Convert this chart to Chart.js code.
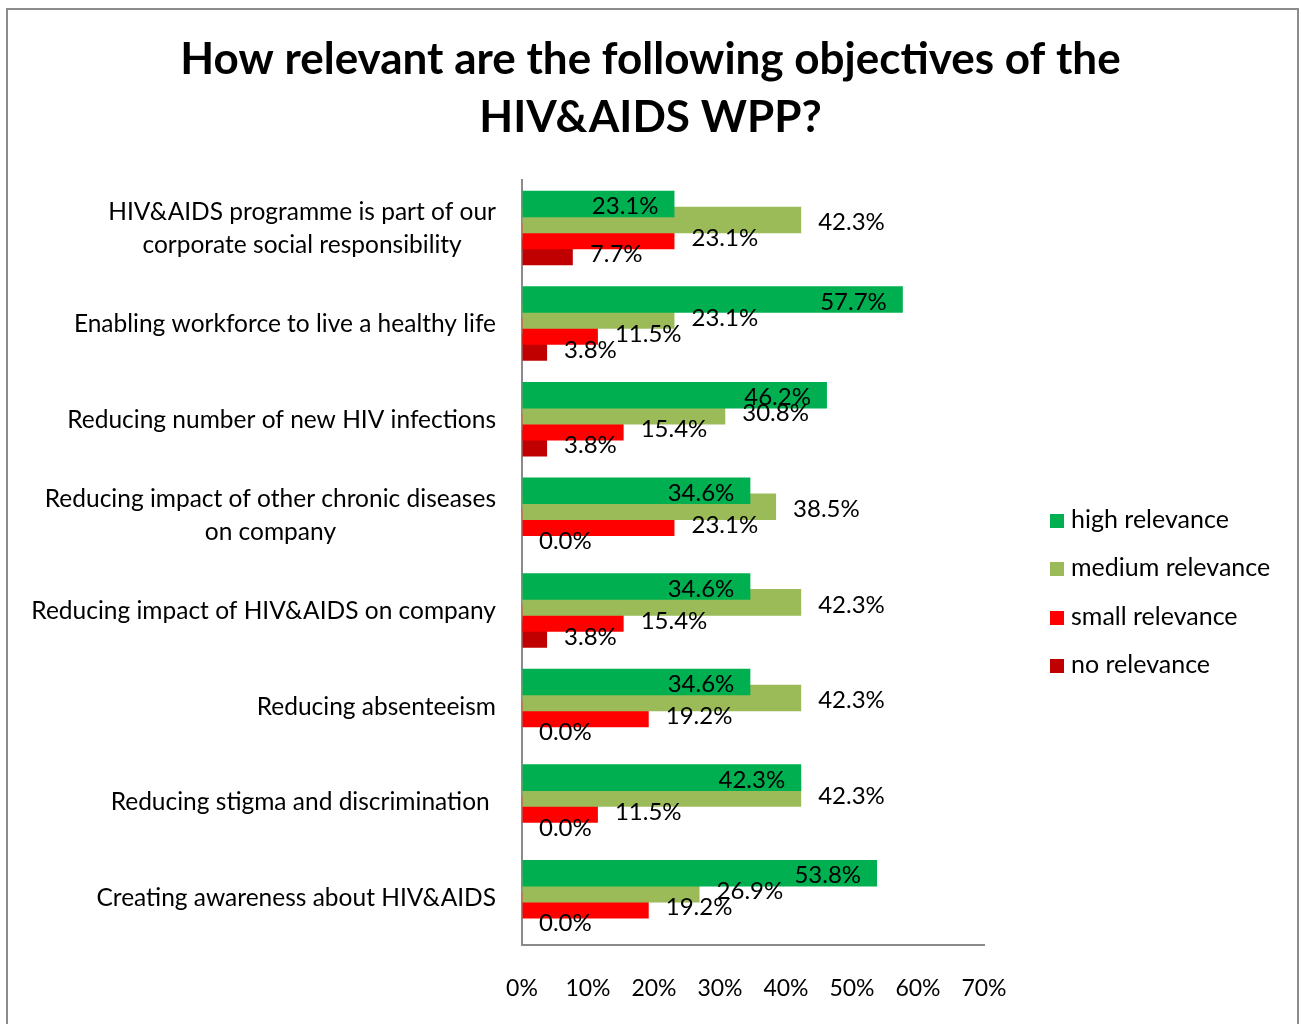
<!DOCTYPE html>
<html>
<head>
<meta charset="utf-8">
<title>HIV&amp;AIDS WPP objectives</title>
<script src="https://cdn.jsdelivr.net/npm/chart.js@4.4.1/dist/chart.umd.min.js"></script>
<style>
  body { margin: 0; background: #fff; font-family: Lato, sans-serif; }
  #frame { position: absolute; left: 6px; top: 8px; width: 1289px; height: 1040px; border: 2px solid #8c8c8c; }
  #chart { position: absolute; left: 0; top: 0; }
  #legend { position: absolute; left: 1050px; top: 494px; font-size: 25px; color: #000; }
  #legend div { height: 48.4px; line-height: 48.4px; white-space: nowrap; }
  #legend span { display: inline-block; width: 14px; height: 14px; margin-right: 7px; vertical-align: 0px; }
</style>
</head>
<body>
<div id="frame"></div>
<canvas id="chart" width="1301" height="1024"></canvas>
<div id="legend"></div>
<script>
// Categorias (cada una en lineas)
const categories = [
  ['HIV&AIDS programme is part of our', 'corporate social responsibility'],
  ['Enabling workforce to live a healthy life'],
  ['Reducing number of new HIV infections'],
  ['Reducing impact of other chronic diseases', 'on company'],
  ['Reducing impact of HIV&AIDS on company'],
  ['Reducing absenteeism'],
  ['Reducing stigma and discrimination '],
  ['Creating awareness about HIV&AIDS']
];

// Porcentajes por serie
const highRelevance = [23.1, 57.7, 46.2, 34.6, 34.6, 34.6, 42.3, 53.8];
const mediumRelevance = [42.3, 23.1, 30.8, 38.5, 42.3, 42.3, 42.3, 26.9];
const smallRelevance = [23.1, 11.5, 15.4, 23.1, 15.4, 19.2, 11.5, 19.2];
const noRelevance = [7.7, 3.8, 3.8, 0.0, 3.8, 0.0, 0.0, 0.0];

const seriesNames = ['high relevance', 'medium relevance', 'small relevance', 'no relevance'];
const seriesColors = ['#00B050', '#9BBB59', '#FF0000', '#C00000'];

// Etiquetas de valor: la primera serie dentro de la barra, el resto fuera
const valueLabels = {
  id: 'valueLabels',
  afterDatasetsDraw(chart) {
    const ctx = chart.ctx;
    ctx.save();
    ctx.font = '24px Lato';
    ctx.fillStyle = '#000';
    ctx.textBaseline = 'middle';
    chart.data.datasets.forEach((ds, di) => {
      const meta = chart.getDatasetMeta(di);
      meta.data.forEach((bar, i) => {
        const text = ds.data[i].toFixed(1) + '%';
        if (di === 0) {
          ctx.textAlign = 'right';
          ctx.fillText(text, bar.x - 16, bar.y + 2.5);
        } else {
          ctx.textAlign = 'left';
          ctx.fillText(text, bar.x + 17, bar.y + 2.5);
        }
      });
    });
    ctx.restore();
  }
};

// Nombres de categoria a la izquierda del eje, lineas centradas entre si
const categoryLabels = {
  id: 'categoryLabels',
  afterDraw(chart) {
    const ctx = chart.ctx;
    const yScale = chart.scales.y;
    const right = chart.chartArea.left - 26;
    ctx.save();
    ctx.font = '24.5px Lato';
    ctx.fillStyle = '#000';
    ctx.textAlign = 'center';
    ctx.textBaseline = 'middle';
    categories.forEach((lines, i) => {
      const cy = yScale.getPixelForValue(i) + 1;
      const maxW = Math.max(...lines.map(l => ctx.measureText(l).width));
      const cx = right - maxW / 2;
      lines.forEach((line, k) => {
        ctx.fillText(line, cx, cy + (k - (lines.length - 1) / 2) * 33);
      });
    });
    ctx.restore();
  }
};

const chart = new Chart(document.getElementById('chart'), {
  type: 'bar',
  data: {
    labels: categories.map(c => c.join(' ')),
    datasets: [
      { label: seriesNames[0], data: highRelevance, backgroundColor: seriesColors[0] },
      { label: seriesNames[1], data: mediumRelevance, backgroundColor: seriesColors[1] },
      { label: seriesNames[2], data: smallRelevance, backgroundColor: seriesColors[2] },
      { label: seriesNames[3], data: noRelevance, backgroundColor: seriesColors[3] }
    ]
  },
  options: {
    indexAxis: 'y',
    responsive: false,
    animation: false,
    categoryPercentage: 0.669,
    barPercentage: 1.66,
    layout: { padding: 0 },
    plugins: {
      legend: { display: false },
      tooltip: { enabled: false },
      title: {
        display: true,
        text: ['How relevant are the following objectives of the', 'HIV&AIDS WPP?'],
        color: '#000',
        font: { family: 'Lato', size: 44, weight: 'bold', lineHeight: 1.32 },
        padding: { top: 31, bottom: 33 }
      }
    },
    scales: {
      x: {
        min: 0,
        max: 70,
        grid: { drawOnChartArea: false, drawTicks: false },
        border: { color: '#8a8a8a', width: 2 },
        ticks: {
          stepSize: 10,
          padding: 30,
          color: '#000',
          font: { family: 'Lato', size: 23 },
          callback: v => v + '%'
        },
        afterFit: s => { s.height = 79; }
      },
      y: {
        grid: { drawOnChartArea: false, drawTicks: false },
        border: { color: '#8a8a8a', width: 2 },
        ticks: { display: false },
        afterFit: s => { s.width = 522; }
      },
      // espacio reservado a la derecha para la leyenda
      spacer: {
        type: 'category',
        axis: 'y',
        position: 'right',
        grid: { display: false },
        border: { display: false },
        ticks: { display: false },
        afterFit: s => { s.width = 317; }
      }
    }
  },
  plugins: [valueLabels, categoryLabels]
});

// Leyenda en HTML
const legend = document.getElementById('legend');
chart.data.datasets.forEach(ds => {
  const row = document.createElement('div');
  row.innerHTML = `<span style="background:${ds.backgroundColor}"></span>${ds.label}`;
  legend.appendChild(row);
});
</script>
</body>
</html>
